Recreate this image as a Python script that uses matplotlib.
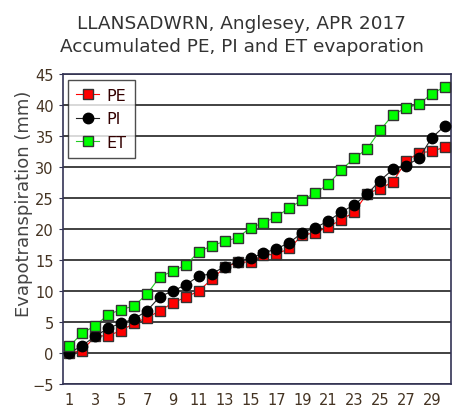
import matplotlib.pyplot as plt

# Datos (mm acumulados por dia)
dias = list(range(1, 31))
pe = [0.0, 0.4, 2.7, 2.8, 3.6, 4.8, 5.7, 6.8, 8.1, 9.0, 10.0, 11.9, 13.8, 14.6, 14.7,
      15.8, 15.9, 16.9, 19.0, 19.4, 20.3, 21.5, 22.7, 25.7, 26.5, 27.6, 30.9, 32.3, 32.5, 33.2]
pi = [0.0, 1.2, 2.7, 4.0, 4.8, 5.5, 6.8, 9.1, 10.0, 11.0, 12.4, 12.8, 13.9, 14.7, 15.3,
      16.1, 16.8, 17.8, 19.4, 20.2, 21.3, 22.7, 23.9, 25.6, 27.8, 29.6, 30.2, 31.4, 34.7, 36.6]
et = [1.1, 3.2, 4.4, 6.2, 7.0, 7.6, 9.5, 12.3, 13.2, 14.2, 16.3, 17.3, 18.0, 18.6, 20.2,
      21.0, 22.0, 23.4, 24.7, 25.8, 27.2, 29.5, 31.4, 32.9, 35.9, 38.4, 39.5, 40.1, 41.8, 42.9]
etiquetas_x = [str(d) for d in range(1, 31, 2)]

fig = plt.figure(figsize=(4.69, 4.14), dpi=100)
ax = fig.add_axes([0.134, 0.070, 0.828, 0.749])

# Lineas de la cuadricula
for v in range(-5, 46, 5):
    ax.axhline(v, color='#333333', lw=1.3, zorder=1)

ax.plot(dias, pe, color='red', lw=0.8, marker='s', ms=7.5, mfc='#ff0000',
        mec='#333333', mew=1, label='PE', zorder=3)
ax.plot(dias, pi, color='#222222', lw=0.8, marker='o', ms=7.5, mfc='black',
        mec='black', mew=1, label='PI', zorder=4)
ax.plot(dias, et, color='#22cc22', lw=0.8, marker='s', ms=7.5, mfc='#00ff00',
        mec='#333333', mew=1, label='ET', zorder=5)

ax.set_xlim(0.5, 30.5)
ax.set_ylim(-5, 45)
ax.set_yticks(range(-5, 46, 5))
ax.set_xticks(range(1, 31, 2))
ax.set_xticklabels(etiquetas_x)
ax.tick_params(axis='x', length=0, labelsize=10.5, labelcolor='#443322', pad=6)
ax.tick_params(axis='y', length=3, labelsize=10.5, labelcolor='#443322', color='#333355')
for s in ax.spines.values():
    s.set_color('#333355')
    s.set_linewidth(1.2)

ax.set_ylabel('Evapotranspiration (mm)', fontsize=13, color='#444444')
ax.yaxis.set_label_coords(-0.078, 0.584)

leg = ax.legend(loc='upper left', fontsize=11.5, frameon=True, fancybox=False,
                edgecolor='#222222', handlelength=1.4, handletextpad=0.5,
                borderaxespad=0.35, labelspacing=0.55, borderpad=0.5)
leg.get_frame().set_linewidth(1)
for t in leg.get_texts():
    t.set_color('#330000')

fig.text(0.515, 0.942, 'LLANSADWRN, Anglesey, APR 2017', ha='center', va='center',
         fontsize=13.3, color='#333333')
fig.text(0.515, 0.886, 'Accumulated PE, PI and ET evaporation', ha='center', va='center',
         fontsize=13.3, color='#333333')

fig.savefig('out.png', dpi=100)
